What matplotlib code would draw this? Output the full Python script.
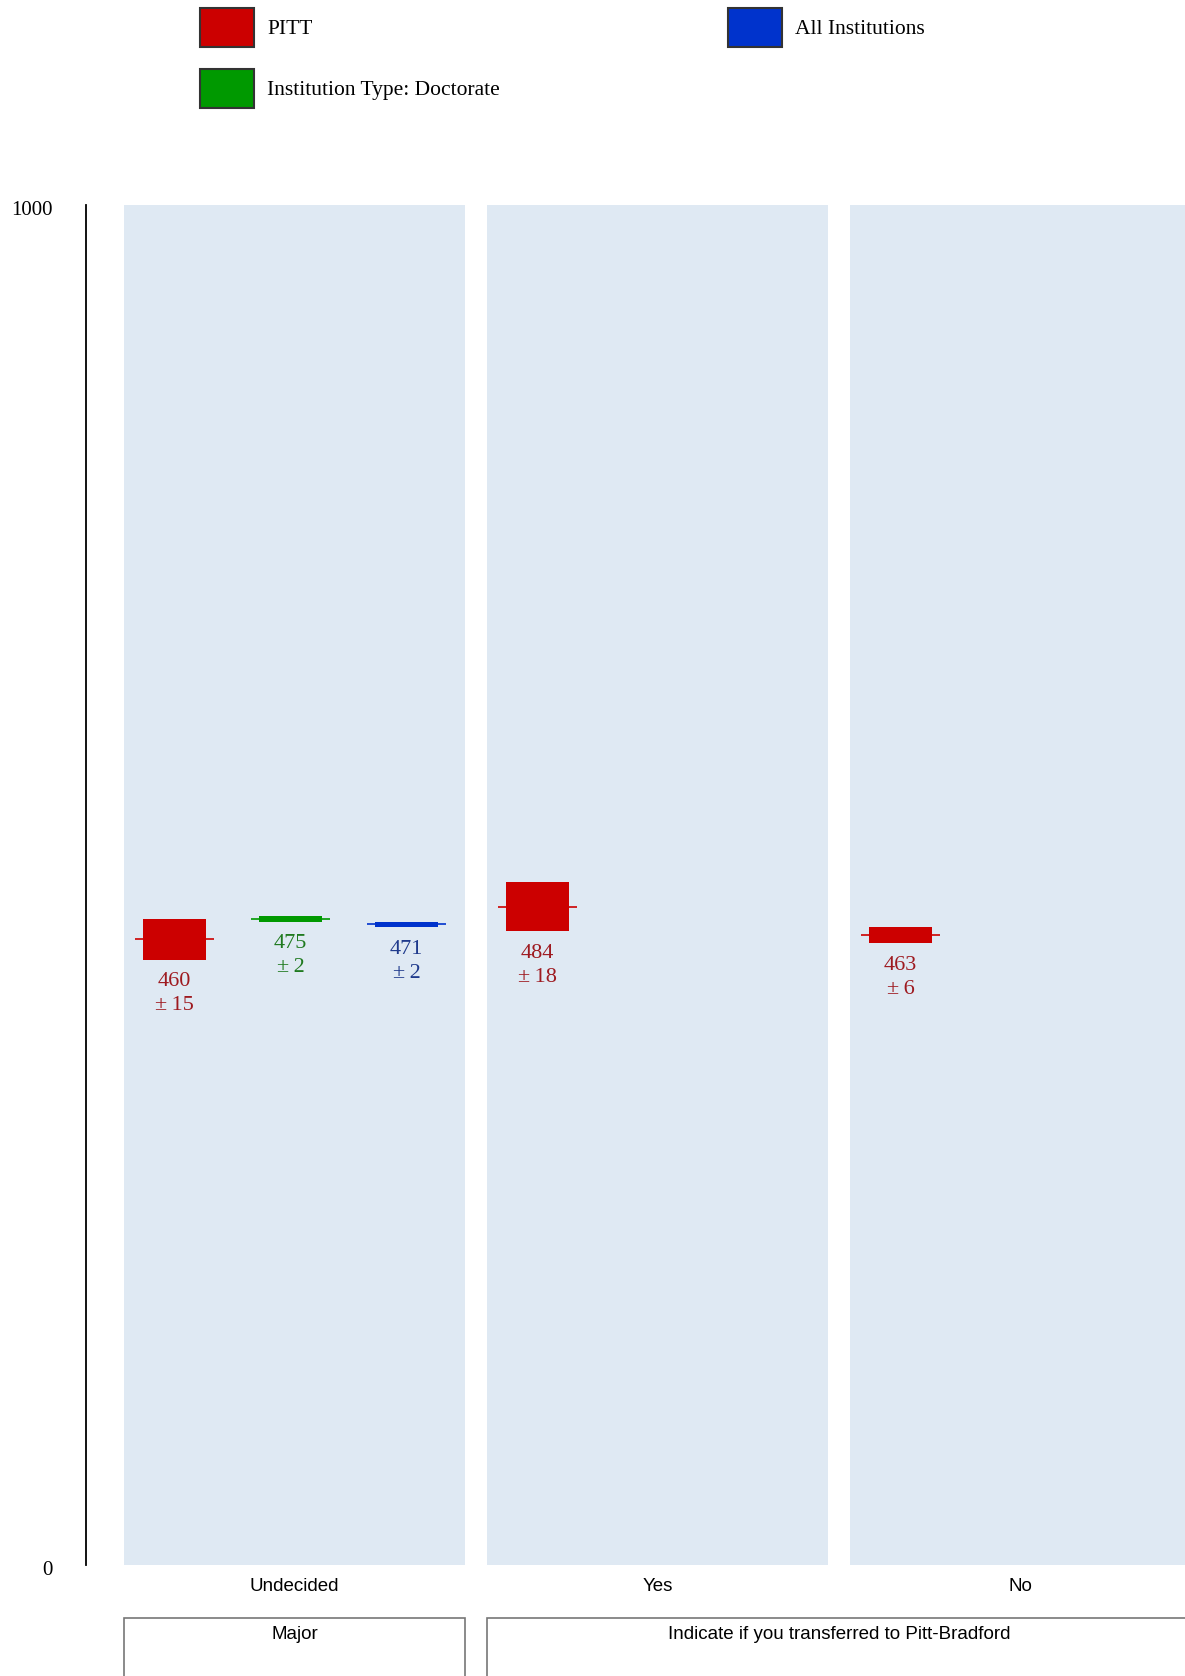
import matplotlib
matplotlib.use("Agg")
import matplotlib.pyplot as plt
from matplotlib.patches import Rectangle
import matplotlib.transforms as mtransforms

# ---- data ----
categories = ["Undecided", "Yes", "No"]
groups = ["Major", "Indicate if you transferred to Pitt-Bradford"]
group_spans = [(0, 0), (1, 2)]
series_names = ["PITT", "Institution Type: Doctorate", "All Institutions"]
pitt_values = [460, 484, 463]
pitt_errors = [15, 18, 6]
doct_values = [475, None, None]
doct_errors = [2, None, None]
all_values = [471, None, None]
all_errors = [2, None, None]
y_ticks = [0, 1000]

# ---- style ----
bar_colors = ["#cc0000", "#009900", "#0033cc"]
text_colors = ["#9e1a20", "#1f7a1f", "#1f3a8c"]
panel_color = "#dfe9f3"
serif = ["Liberation Serif", "DejaVu Serif"]
sans = ["Liberation Sans", "DejaVu Sans"]

W, H = 1185, 1676
fig = plt.figure(figsize=(W / 100, H / 100), dpi=100)

def fx(px):
    return px / W

def fy(py):
    return 1 - py / H

ax_left, ax_right, ax_top, ax_bot = 86, 1185, 205, 1565
ax = fig.add_axes([fx(ax_left), fy(ax_bot), fx(ax_right - ax_left), (ax_bot - ax_top) / H])

unit = 363.0
c0 = 294.5
ax.set_xlim((ax_left - c0) / unit, (ax_right - c0) / unit)
ax.set_ylim(0, 1000)

half_panel = 170.5 / unit
slot_offsets = [-120 / unit, -4 / unit, 112 / unit]
bar_w = 63 / unit
whisk_half = 39.5 / unit

# panels
for i, _ in enumerate(categories):
    ax.add_patch(Rectangle((i - half_panel, 0), 2 * half_panel, 1000,
                           facecolor=panel_color, edgecolor="none", zorder=0))

all_series = [(pitt_values, pitt_errors), (doct_values, doct_errors), (all_values, all_errors)]
for s, (vals, errs) in enumerate(all_series):
    for i, (v, e) in enumerate(zip(vals, errs)):
        if v is None:
            continue
        x = i + slot_offsets[s]
        ax.hlines(v, x - whisk_half, x + whisk_half, color=bar_colors[s], lw=1.2, zorder=2)
        ax.bar(x, 2 * e, bottom=v - e, width=bar_w, color=bar_colors[s], zorder=3)
        ax.annotate(f"{v}\n\u00b1\u2009{e}", xy=(x, v - e), xytext=(0, -9),
                    textcoords="offset points", ha="center", va="top",
                    multialignment="center", fontsize=16, family=serif,
                    color=text_colors[s], linespacing=1.36)

# axes styling
for sp in ["top", "right", "bottom"]:
    ax.spines[sp].set_visible(False)
ax.spines["left"].set_linewidth(1.3)
ax.set_yticks(y_ticks)
ax.set_yticklabels([str(t) for t in y_ticks], family=serif, fontsize=15)
ax.tick_params(axis="y", length=0, pad=24)
shift = mtransforms.ScaledTranslation(0, -2.5 / 72, fig.dpi_scale_trans)
for lbl in ax.get_yticklabels():
    lbl.set_transform(lbl.get_transform() + shift)
ax.set_xticks(range(len(categories)))
ax.set_xticklabels(categories, family=sans, fontsize=13.5)
ax.tick_params(axis="x", length=0, pad=9.5)

# group boxes
trans = mtransforms.blended_transform_factory(ax.transData, fig.transFigure)
for g, (a, b) in zip(groups, group_spans):
    x0 = a - half_panel
    x1 = b + half_panel
    r = Rectangle((x0, fy(1700)), x1 - x0, fy(1618) - fy(1700), transform=trans,
                  facecolor="white", edgecolor="#777777", lw=1.2, clip_on=False)
    fig.add_artist(r)
    fig.text((x0 + x1) / 2, fy(1634), g, transform=trans, ha="center", va="center",
             family=sans, fontsize=13.5)

# legend (manual)
legend_items = [("PITT", 0, 200, 8), ("All Institutions", 2, 728, 8),
                ("Institution Type: Doctorate", 1, 200, 69)]
for label, s, px, py in legend_items:
    fig.add_artist(Rectangle((fx(px), fy(py + 39)), fx(54), 39 / H,
                             transform=fig.transFigure, facecolor=bar_colors[s],
                             edgecolor="#333333", lw=1.5))
    fig.text(fx(px + 67), fy(py + 22), label, ha="left", va="center",
             family=serif, fontsize=15.5)

fig.savefig("out.png", dpi=100)
